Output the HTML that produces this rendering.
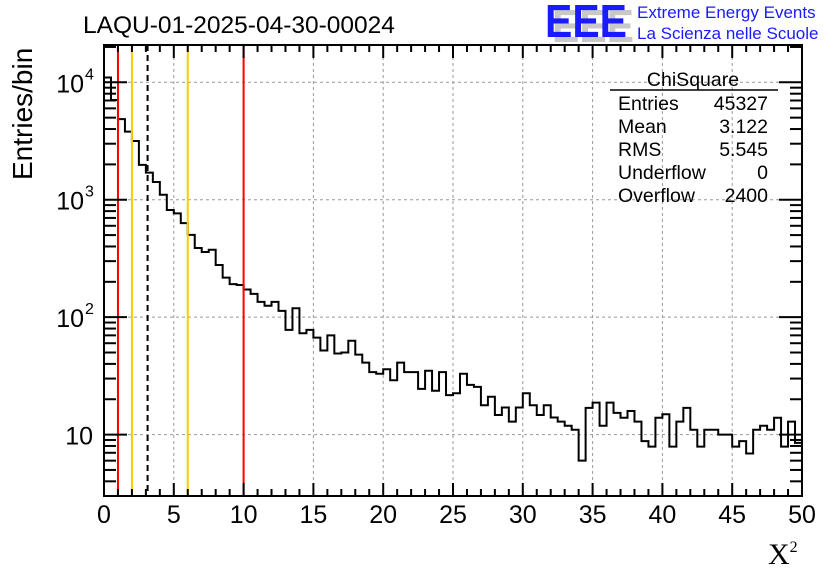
<!DOCTYPE html>
<html><head><meta charset="utf-8"><style>
body{margin:0;background:#fff;}
svg{display:block;font-family:"Liberation Sans",sans-serif;}
</style></head><body>
<svg id="chart" width="836" height="572" viewBox="0 0 836 572" xmlns="http://www.w3.org/2000/svg">
<rect width="836" height="572" fill="#fff"/>
<g id="grid"></g>
<g id="marks"></g>
<g id="axes"></g>
<text x="83" y="33" font-size="24.5">LAQU-01-2025-04-30-00024</text>
<g font-weight="bold" font-size="46">
<text x="552" y="42" fill="#c8c8c8" textLength="82" lengthAdjust="spacingAndGlyphs">EEE</text>
<text x="545" y="37" fill="#1a1aff" textLength="82" lengthAdjust="spacingAndGlyphs">EEE</text>
</g>
<text x="637" y="18" font-size="17" fill="#1a1aff">Extreme Energy Events</text>
<text x="637" y="39" font-size="17" fill="#1a1aff">La Scienza nelle Scuole</text>
<g font-size="19.5">
<text x="693" y="86" text-anchor="middle">ChiSquare</text>
<line x1="610" y1="90" x2="778" y2="90" stroke="#000" stroke-width="1.5"/>
<text x="618" y="110">Entries</text><text x="768" y="110" text-anchor="end">45327</text>
<text x="618" y="133">Mean</text><text x="768" y="133" text-anchor="end">3.122</text>
<text x="618" y="156">RMS</text><text x="768" y="156" text-anchor="end">5.545</text>
<text x="618" y="179">Underflow</text><text x="768" y="179" text-anchor="end">0</text>
<text x="618" y="202">Overflow</text><text x="768" y="202" text-anchor="end">2400</text>
</g>
<text transform="translate(32,180) rotate(-90)" font-size="28">Entries/bin</text>
<text x="768" y="564" font-size="30" font-family="Liberation Serif,serif">X<tspan font-size="16" dy="-12">2</tspan></text>
</svg>
<script>
const binWidth = 0.5;
const counts = [11000,7070,4860,3800,3160,1980,1700,1415,1104,817,
766,632,502,388,359,375,278,217,191,188,
172,158,135,125,135,113,78,119,73,78,
67,52,70,49,50,63,48,41,34,33,
36,29,41,34,34,24.5,35,23.6,34,21.7,
22.5,33,26.5,25.5,17.8,21,14.7,17,12.9,17,
22.5,17.8,14.7,17.8,14,12.9,11.9,11,6.0,16.9,
18.7,11.9,18.7,15.3,13.9,15.9,12.9,8.8,7.9,13.9,
14.9,7.9,12.9,16.9,11,7.9,11,11,10,10,
7.9,8.8,6.9,11,11.9,11,13.9,7.9,12.9,8.5];
const xTicks = [0,5,10,15,20,25,30,35,40,45,50];
const yDecades = [1,2,3,4];
const vLines = [{x:1,c:"#ff0000"},{x:2,c:"#ffcc00"},{x:6,c:"#ffcc00"},{x:10,c:"#ff0000"}];
const meanValue = 3.122;

const L=104,R=802,T=45,B=496;
const xMin=0,xMax=50;
const yLogMin=Math.log10(3.0), yLogMax=4+(82.3-45)/117.4;
const sx=v=>L+(v-xMin)/(xMax-xMin)*(R-L);
const sy=v=>T+(yLogMax-Math.log10(v))/(yLogMax-yLogMin)*(B-T);
const NS="http://www.w3.org/2000/svg";
function mk(tag,attrs,parent){const e=document.createElementNS(NS,tag);for(const k in attrs)e.setAttribute(k,attrs[k]);parent.appendChild(e);return e;}
const grid=document.getElementById('grid'),marks=document.getElementById('marks'),axes=document.getElementById('axes');

xTicks.forEach(t=>{if(t>0&&t<50){const g=mk('line',{x1:sx(t),x2:sx(t),y1:T,y2:B,stroke:'#999','stroke-dasharray':'3,3','stroke-width':1},grid);

}});
yDecades.forEach(d=>{const y=sy(Math.pow(10,d));const g=mk('line',{x1:L,x2:R,y1:y,y2:y,stroke:'#999','stroke-dasharray':'3,3','stroke-width':1},grid);

});

let d=`M${sx(0)},${B}`;
counts.forEach((c,i)=>{const y=Math.min(B,sy(c));d+=` L${sx(i*binWidth)},${y} L${sx((i+1)*binWidth)},${y}`;});
const h=mk('path',{d:d,fill:'none',stroke:'#000','stroke-width':2},marks);



vLines.forEach(v=>{const l=mk('line',{x1:sx(v.x),x2:sx(v.x),y1:T,y2:B,stroke:v.c,'stroke-width':2},marks);

});
const ml=mk('line',{x1:sx(meanValue),x2:sx(meanValue),y1:T,y2:B,stroke:'#000','stroke-width':2,'stroke-dasharray':'6,4'},marks);



const fr=mk('rect',{x:L,y:T,width:R-L,height:B-T,fill:'none',stroke:'#000','stroke-width':2},axes);


for(let v=0;v<=50;v++){const major=v%5===0;const len=major?13:7;const x=sx(v);
mk('line',{x1:x,x2:x,y1:B,y2:B-len,stroke:'#000','stroke-width':2},axes);
mk('line',{x1:x,x2:x,y1:T,y2:T+len,stroke:'#000','stroke-width':2},axes);}
xTicks.forEach(t=>{const tx=mk('text',{x:sx(t),y:523,'font-size':25,'text-anchor':'middle'},axes);tx.textContent=String(t);

});
for(let dd=0;dd<=4;dd++){for(let m=1;m<=9;m++){const v=m*Math.pow(10,dd);const y=sy(v);if(y<T||y>B)continue;const len=m===1?23:12;
mk('line',{x1:L,x2:L+len,y1:y,y2:y,stroke:'#000','stroke-width':2},axes);
mk('line',{x1:R,x2:R-len,y1:y,y2:y,stroke:'#000','stroke-width':2},axes);}}
yDecades.forEach(dd=>{const y=sy(Math.pow(10,dd));const tx=mk('text',{x:dd===1?93:84,y:y+10,'font-size':25,'text-anchor':'end'},axes);tx.textContent='10';


if(dd>1){const sp=mk('text',{x:85,y:y-3,'font-size':16},axes);sp.textContent=String(dd);

}});
</script>
</body></html>
